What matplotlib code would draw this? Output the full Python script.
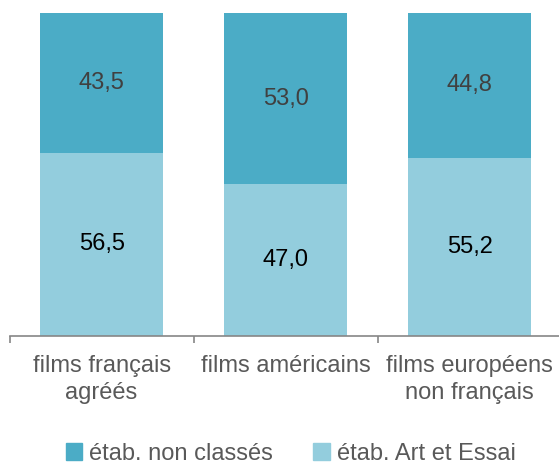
import matplotlib
matplotlib.use("Agg")
import matplotlib.pyplot as plt
import numpy as np
from matplotlib.patches import Patch

categories = ["films français\nagréés", "films américains", "films européens\nnon français"]
art_essai = [56.5, 47.0, 55.2]
non_classes = [43.5, 53.0, 44.8]
series_names = ["étab. non classés", "étab. Art et Essai"]

c_dark = "#4BACC6"
c_light = "#93CDDD"

plt.rcParams["font.family"] = ["Liberation Sans", "DejaVu Sans"]

fig = plt.figure(figsize=(5.59, 4.66), dpi=100)
ax = fig.add_axes([0.0172, 0.28, 0.9875, 0.692])

x = np.arange(len(categories))
w = 0.67
ax.bar(x, art_essai, w, color=c_light)
ax.bar(x, non_classes, w, bottom=art_essai, color=c_dark)

def fmt(v):
    return f"{v:.1f}".replace(".", ",")

fs = 17
for i in range(len(x)):
    ax.text(x[i], art_essai[i] / 2, fmt(art_essai[i]), ha="center", va="center",
            fontsize=fs, color="black")
    ax.text(x[i], art_essai[i] + non_classes[i] / 2, fmt(non_classes[i]), ha="center",
            va="center", fontsize=fs, color="#404040")

ax.set_xlim(-0.5, 2.5)
ax.set_ylim(0, 100)
ax.set_yticks([])
for s in ["top", "right", "left"]:
    ax.spines[s].set_visible(False)
ax.spines["bottom"].set_color("#868686")
ax.spines["bottom"].set_linewidth(1.2)

ax.set_xticks(x)
ax.set_xticklabels(categories, fontsize=fs, color="#595959", linespacing=1.3)
ax.tick_params(axis="x", which="major", length=0, pad=14)
ax.set_xticks([-0.5, 0.5, 1.5, 2.5], minor=True)
ax.tick_params(axis="x", which="minor", length=5, width=1.2, color="#868686")

handles = [Patch(color=c_dark), Patch(color=c_light)]
fig.legend(handles, series_names, loc="center", bbox_to_anchor=(0.52, 0.026), ncol=2,
           frameon=False, fontsize=fs, handlelength=0.7, handleheight=0.7,
           handletextpad=0.3, columnspacing=1.7, labelcolor="#595959",
           borderpad=0.1)

fig.savefig("out.png", dpi=100)
